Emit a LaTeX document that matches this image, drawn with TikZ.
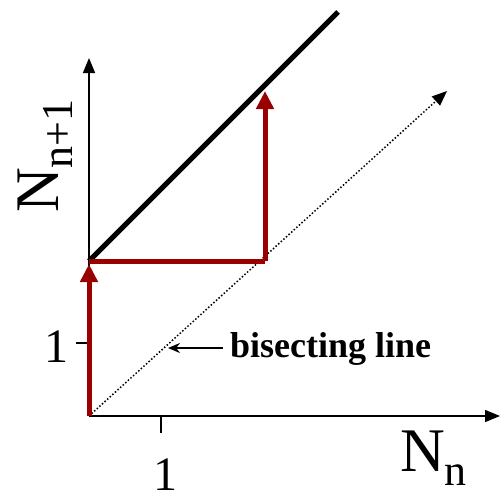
\documentclass[tikz,border=0pt]{standalone}
\usepackage{fontspec}
\setmainfont{Liberation Serif}
\usetikzlibrary{arrows.meta}
\definecolor{darkred}{RGB}{153,0,0}
\newcommand{\mysub}[1]{\raisebox{-14pt}{\fontsize{44}{44}\selectfont #1}}
\tikzset{
  axis/.style={line width=1.5pt,-{Triangle[length=15pt,width=12pt]}},
  tickline/.style={line width=1.5pt},
  redline/.style={line width=5pt,darkred},
  redarrow/.style={redline,-{Triangle[length=18pt,width=17pt]}},
  blackline/.style={line width=5pt,black},
  bisect/.style={line width=1.5pt,dash pattern=on 1.5pt off 2pt,-{Triangle[length=15pt,width=12pt]}},
  bigtext/.style={inner sep=0pt,font=\fontsize{62}{62}\selectfont},
  ticktext/.style={inner sep=0pt,font=\fontsize{48}{48}\selectfont},
  labeltext/.style={inner sep=0pt,font=\fontsize{36}{36}\selectfont\bfseries},
}
\begin{document}
\begin{tikzpicture}[x=1pt,y=-1pt]
\useasboundingbox (0,0) rectangle (502,495);
% coordinates
\coordinate (O) at (89,416);
\coordinate (xend) at (500,416);
\coordinate (yend) at (89,58);
\coordinate (xt) at (161,416);
\coordinate (xtb) at (161,433);
\coordinate (yt) at (89,343);
\coordinate (ytl) at (76,343);
\coordinate (P) at (89,261);
\coordinate (Q) at (265,261);
\coordinate (Qtop) at (265,91);
\coordinate (Ltop) at (338,12);
\coordinate (Btip) at (447,91);
% axes
\draw[axis] (O) -- (xend);
\draw[axis] (O) -- (yend);
\draw[tickline] (xt) -- (xtb);
\draw[tickline] (yt) -- (ytl);
% bisecting line
\draw[bisect] (O) -- (Btip);
% black line
\draw[blackline] (P) -- (Ltop);
% red path
\draw[redline] (P) -- (Q);
\draw[redarrow] (O) -- ([yshift=-3pt]P);
\draw[redarrow] (Q) -- (Qtop);
% labels
\node[bigtext,anchor=base west] (xlab) at (400,471) {N\mysub{n}};
\node[bigtext,anchor=base west,rotate=90] (ylab) at (58,213) {N\mysub{n+1}};
\node[ticktext,anchor=base] (x1) at (165,490) {1};
\node[ticktext,anchor=base] (y1) at (56,362) {1};
\node[labeltext,anchor=base west] (bl) at (230,357) {bisecting line};
\coordinate (arrstart) at (223,348);
\coordinate (arrtip) at (168,348);
\draw[line width=2pt,-{Stealth[length=12pt,width=10pt]}] (arrstart) -- (arrtip);
\end{tikzpicture}
\end{document}
